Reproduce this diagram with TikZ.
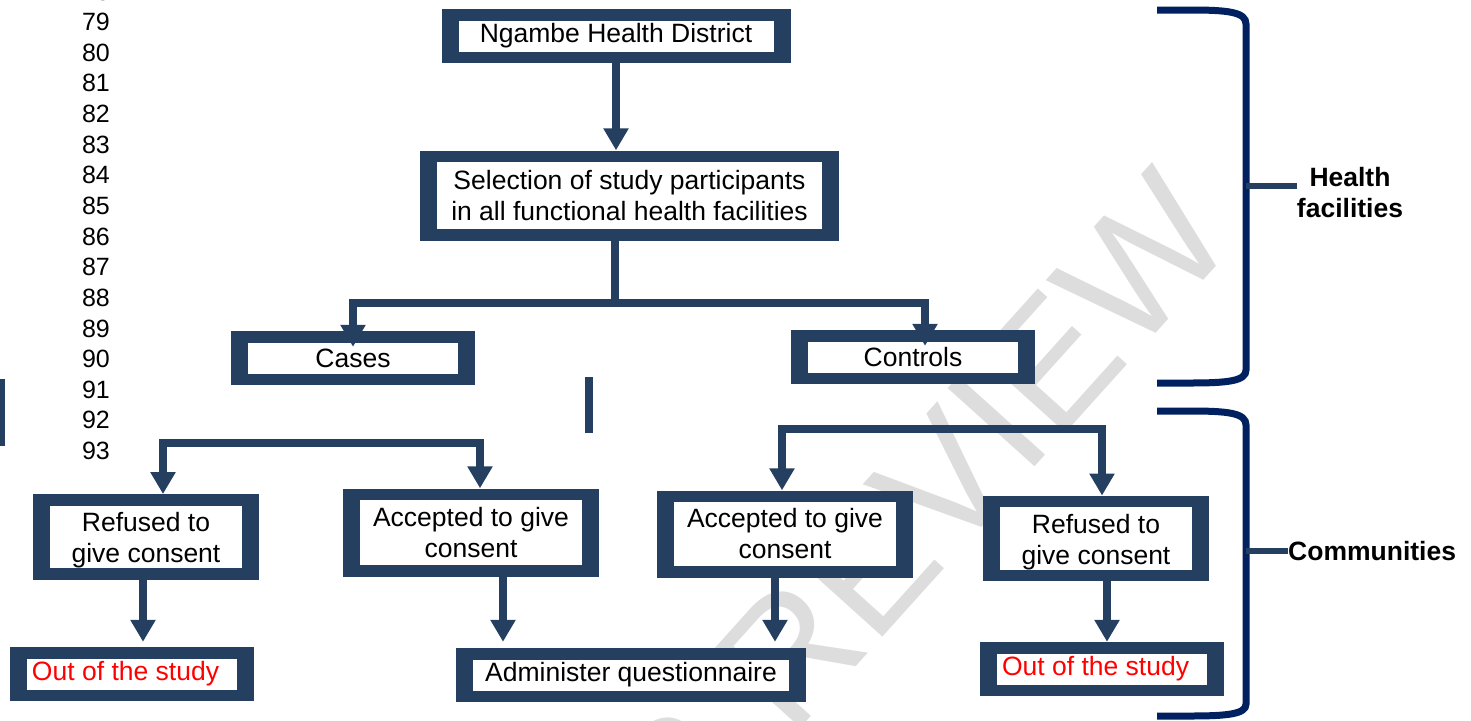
\documentclass[tikz,border=0pt]{standalone}
\usepackage{fontspec}
\setmainfont{Liberation Sans}
\usetikzlibrary{arrows.meta}
\definecolor{boxnavy}{HTML}{243F60}
\definecolor{bracenavy}{HTML}{002060}
\definecolor{markgray}{HTML}{DDDDDD}
\newcommand{\inbox}[4][c]{{\fboxsep=0pt\colorbox{white}{\parbox[c][#3pt][#1]{#2pt}{\centering #4}}}}
\begin{document}
\begin{tikzpicture}[x=1pt,y=-1pt,
    frame/.style={fill=boxnavy, inner xsep=17pt, inner ysep=11.5pt, font=\fontsize{26.5}{31}\selectfont},
    lnum/.style={font=\fontsize{25}{30}\selectfont, inner sep=0pt},
    lab/.style={font=\fontsize{26.5}{31}\selectfont\bfseries, align=center, inner sep=0pt},
    line/.style={draw=boxnavy, line width=7.5pt},
    arr/.style={line, -{Triangle[width=24pt,length=22pt]}},
    tick/.style={draw=boxnavy, line width=6pt},
    brace/.style={draw=bracenavy, line width=7pt}]
                \useasboundingbox (0,0) rectangle (1471,720);
                \node[rotate=48, anchor=base east, text=markgray, font=\fontsize{170}{170}\selectfont, inner sep=0pt] (mark) at (1240,240) {FOR PEER REVIEW};

                \node[lnum] (n78) at (96,-8.6) {78}; \node[lnum] (n79) at (96,22) {79}; \node[lnum] (n80) at (96,52.6) {80}; \node[lnum] (n81) at (96,83.3) {81};
                \node[lnum] (n82) at (96,113.9) {82}; \node[lnum] (n83) at (96,144.6) {83}; \node[lnum] (n84) at (96,175.2) {84}; \node[lnum] (n85) at (96,205.8) {85};
                \node[lnum] (n86) at (96,236.5) {86}; \node[lnum] (n87) at (96,267.1) {87}; \node[lnum] (n88) at (96,297.8) {88}; \node[lnum] (n89) at (96,328.4) {89};
                \node[lnum] (n90) at (96,359) {90}; \node[lnum] (n91) at (96,389.7) {91}; \node[lnum] (n92) at (96,420.3) {92}; \node[lnum] (n93) at (96,451) {93};

                \node[frame] (dist) at (616,36) {\inbox{315}{31}{Ngambe Health District}};
                \node[frame] (sel) at (629.5,195.5) {\inbox{385}{67}{Selection of study participants\\in all functional health facilities}};
                \node[frame] (cases) at (353,358) {\inbox{210}{31}{Cases}}; \node[frame] (ctrl) at (913,357) {\inbox{210}{31}{Controls}};
                \node[frame] (refl) at (146,537) {\inbox[b]{192}{57}{Refused to\\give consent}}; \node[frame] (accl) at (471,532.5) {\inbox{222}{65}{Accepted to give\\consent}};
                \node[frame] (accr) at (785,534) {\inbox{222}{64}{Accepted to give\\consent}}; \node[frame] (refr) at (1096,538.5) {\inbox[b]{192}{57}{Refused to\\give consent}};
                \node[frame] (outl) at (132,674) {\inbox{210}{31}{\raggedright\hspace*{5pt}\textcolor{red}{Out of the study}}};
                \node[frame] (admin) at (631,675) {\inbox{316}{31}{Administer questionnaire}};
                \node[frame] (outr) at (1102,669) {\inbox{210}{31}{\raggedright\hspace*{5pt}\textcolor{red}{Out of the study}}};

                % loose bars
                \fill[boxnavy] (0,379) rectangle (4.5,446); \fill[boxnavy] (585,377) rectangle (593,433);

                \coordinate (split) at (615,303); \coordinate (lsplit) at (320,443); \coordinate (rsplit) at (940,429);
                \draw[arr] (dist.south) -- (dist.south |- sel.north);
                \draw[line] (sel.south -| split) -- (split);
                \draw[arr] (split) -| ([yshift=-16pt]cases.north); \draw[arr] (split) -| ([xshift=12pt,yshift=-16pt]ctrl.north);
                \draw[arr] (lsplit) -| ([xshift=17pt]refl.north); \draw[arr] (lsplit) -| ([xshift=9pt]accl.north);
                \draw[arr] (rsplit) -| ([xshift=-3pt]accr.north); \draw[arr] (rsplit) -| ([xshift=6pt]refr.north);
                \draw[arr, shorten >=5pt] ([xshift=-3pt]refl.south) -- ([xshift=-3pt]refl.south |- outl.north);
                \draw[arr, shorten >=6pt] ([xshift=32pt]accl.south) -- ([xshift=32pt]accl.south |- admin.north);
                \draw[arr, shorten >=6pt] ([xshift=-10pt]accr.south) -- ([xshift=-10pt]accr.south |- admin.north);
                \draw[arr] ([xshift=11pt]refr.south) -- ([xshift=11pt]refr.south |- outr.north);

                % brackets
                \draw[brace] (1157,10) -- (1190,10) .. controls (1228,10) and (1246,12) .. (1246,24) -- (1246,370) .. controls (1246,381) and (1228,383) .. (1190,383) -- (1157,383);
                \draw[brace] (1157,411) -- (1190,411) .. controls (1228,411) and (1246,413) .. (1246,425) -- (1246,704) .. controls (1246,714) and (1228,716) .. (1190,716) -- (1157,716);
                \node[lab] (hfac) at (1350,193) {Health\\facilities}; \node[lab, anchor=west] (comm) at (1288,551) {Communities};
                \coordinate (hbr) at (1246,186); \coordinate (cbr) at (1246,551);
                \draw[tick] (hbr) -- (hbr -| hfac.west); \draw[tick] (cbr) -- (comm.west);
            \end{tikzpicture}
\end{document}
